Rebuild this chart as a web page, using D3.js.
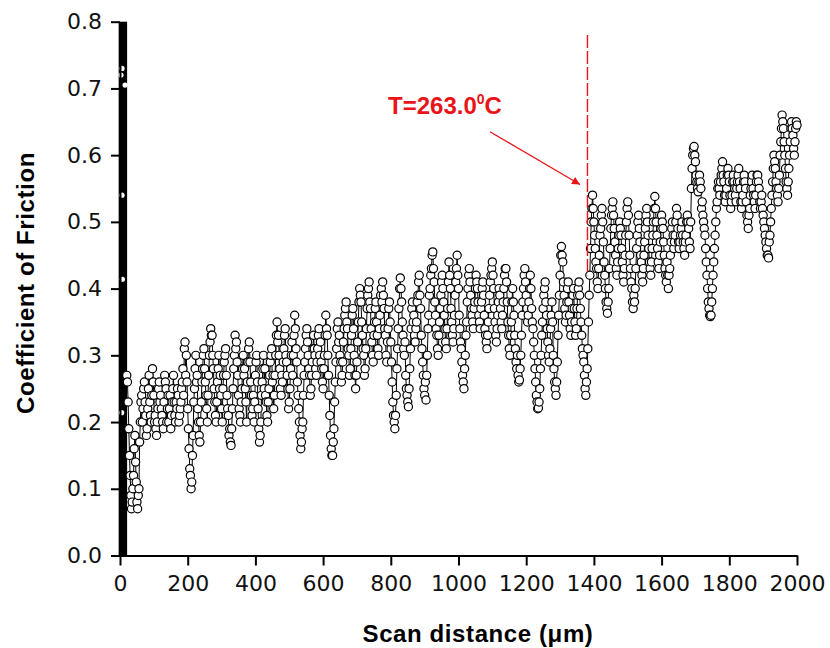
<!DOCTYPE html>
<html><head><meta charset="utf-8">
<script src="https://cdn.jsdelivr.net/npm/d3@7"></script>
<style>body{margin:0;background:#fff}svg{display:block}</style>
</head><body><svg id="c" width="830" height="648"></svg>
<script>
// ---- data ----
const xTicks = [0,200,400,600,800,1000,1200,1400,1600,1800,2000];
const yTicks = [0,0.1,0.2,0.3,0.4,0.5,0.6,0.7,0.8];
const xLabel = "Scan distance (\u03bcm)";
const yLabel = "Coefficient of Friction";
const rowStep = 4; // µm between samples in one row
const rowStarts = [20,120,220,320,420,520,620,720,820,920,1020,1120,1220,1320,1420,1520,1620,1720,1820,1920];
// samples at rowStart + 4j
const cofRowsA = [
 [.27,.23,.15,.09,.08,.12,.18,.11,.07,.1,.2,.24,.22,.26,.21,.19,.25,.23,.2,.28,.24,.21,.18,.22,.26],
 [.24,.21,.19,.27,.25,.22,.2,.24,.21,.25,.23,.2,.22,.24,.21,.23,.26,.24,.32,.3,.22,.16,.12,.11,.18],
 [.25,.3,.27,.2,.17,.23,.28,.31,.26,.22,.24,.3,.34,.33,.28,.23,.2,.26,.3,.27,.22,.25,.29,.31,.24],
 [.21,.19,.165,.22,.28,.33,.32,.27,.22,.2,.25,.3,.28,.23,.26,.31,.29,.24,.22,.2,.27,.3,.22,.17,.2],
 [.26,.3,.28,.23,.2,.25,.29,.31,.27,.24,.3,.35,.33,.28,.24,.26,.31,.34,.29,.25,.23,.28,.32,.3,.36],
 [.31,.26,.22,.18,.17,.2,.27,.31,.34,.3,.27,.25,.29,.33,.3,.27,.31,.34,.32,.28,.25,.3,.36,.33,.27],
 [.21,.16,.15,.19,.26,.31,.35,.33,.29,.27,.32,.36,.38,.34,.3,.28,.33,.37,.3,.25,.29,.35,.4,.38,.33],
 [.3,.28,.34,.39,.41,.37,.32,.29,.35,.38,.33,.3,.36,.4,.41,.37,.33,.29,.34,.38,.32,.26,.21,.19,.24],
 [.31,.37,.416,.38,.33,.3,.27,.24,.223,.28,.34,.38,.36,.32,.35,.39,.42,.37,.31,.27,.24,.233,.3,.36,.4],
 [.43,.455,.41,.36,.33,.3,.35,.39,.42,.38,.34,.31,.37,.44,.4,.35,.32,.36,.41,.45,.4,.34,.31,.27,.25],
 [.3,.35,.4,.43,.39,.36,.34,.38,.42,.4,.36,.34,.38,.41,.36,.33,.31,.35,.39,.42,.44,.4,.35,.32,.36],
 [.4,.37,.34,.38,.42,.43,.38,.33,.3,.35,.4,.36,.31,.28,.27,.263,.3,.36,.4,.43,.39,.35,.38,.42,.37],
 [.34,.3,.26,.23,.221,.25,.3,.35,.39,.41,.36,.32,.29,.34,.38,.3,.26,.24,.29,.36,.42,.463,.44,.39,.35],
 [.38,.41,.36,.33,.37,.4,.35,.34,.39,.41,.37,.33,.3,.27,.24,.28,.35,.42,.5,.54,.5,.46,.43,.4,.45],
 [.49,.52,.47,.42,.38,.363,.4,.46,.51,.53,.49,.45,.42,.46,.5,.48,.44,.41,.45,.5,.53,.48,.43,.4,.37],
 [.38,.43,.48,.51,.47,.44,.41,.45,.49,.52,.48,.44,.42,.46,.5,.538,.5,.46,.43,.47,.51,.49,.45,.42,.44],
 [.4,.43,.47,.5,.46,.48,.52,.49,.46,.48,.5,.47,.45,.48,.51,.49,.46,.55,.6,.613,.59,.56,.545,.57,.55],
 [.53,.5,.48,.44,.4,.37,.358,.38,.42,.46,.5,.53,.56,.54,.57,.59,.56,.53,.55,.58,.56,.52,.54,.57,.55],
 [.53,.56,.58,.55,.52,.54,.57,.55,.51,.49,.52,.55,.57,.54,.52,.56,.57,.55,.52,.54,.51,.49,.47,.45,.446],
 [.48,.52,.56,.6,.58,.55,.53,.57,.62,.66,.64,.6,.56,.54,.58,.62,.65,.63,.6,.64,.645]
];
// samples at rowStart + 2 + 4j
const cofRowsB = [
 [.26,.19,.12,.07,.1,.16,.14,.08,.09,.17,.23,.2,.25,.23,.18,.22,.27,.21,.24,.26,.2,.19,.2,.25,.23],
 [.22,.2,.23,.26,.2,.24,.22,.19,.23,.27,.21,.23,.25,.2,.22,.25,.28,.31,.27,.26,.19,.13,.1,.15,.23],
 [.28,.26,.22,.18,.2,.26,.3,.28,.24,.2,.27,.32,.33,.3,.25,.21,.23,.28,.25,.24,.2,.27,.3,.27,.22],
 [.18,.17,.19,.25,.3,.31,.29,.24,.21,.23,.28,.27,.25,.2,.29,.32,.26,.21,.24,.23,.29,.26,.19,.18,.24],
 [.28,.25,.24,.21,.23,.27,.3,.26,.22,.27,.33,.32,.3,.25,.27,.29,.33,.3,.27,.22,.25,.3,.27,.33,.34],
 [.29,.24,.2,.16,.19,.24,.29,.33,.32,.28,.24,.27,.31,.31,.28,.29,.33,.3,.29,.26,.28,.33,.34,.3,.24],
 [.18,.15,.17,.23,.29,.34,.32,.3,.26,.29,.34,.37,.35,.31,.27,.31,.36,.34,.27,.27,.32,.38,.39,.35,.31],
 [.27,.31,.37,.4,.38,.34,.3,.33,.37,.35,.31,.34,.39,.38,.39,.34,.3,.32,.37,.35,.29,.23,.2,.21,.28],
 [.34,.4,.4,.35,.31,.32,.25,.23,.25,.31,.37,.35,.33,.34,.38,.41,.39,.33,.29,.25,.26,.27,.34,.39,.42],
 [.45,.43,.38,.34,.31,.33,.37,.41,.4,.36,.32,.34,.41,.42,.37,.33,.34,.39,.43,.42,.36,.32,.29,.26,.28],
 [.33,.38,.42,.41,.37,.35,.37,.4,.41,.38,.35,.37,.4,.39,.34,.32,.33,.37,.41,.43,.42,.37,.33,.34,.38],
 [.39,.35,.36,.4,.43,.41,.35,.31,.33,.38,.38,.33,.29,.3,.26,.28,.33,.38,.42,.41,.37,.36,.4,.4,.35],
 [.32,.28,.24,.22,.23,.28,.33,.37,.4,.38,.34,.3,.31,.36,.35,.28,.25,.26,.33,.39,.45,.45,.41,.37,.36],
 [.4,.38,.34,.35,.39,.37,.33,.37,.4,.39,.35,.31,.29,.25,.26,.31,.39,.46,.52,.52,.48,.44,.41,.43,.48],
 [.51,.5,.44,.4,.37,.38,.43,.49,.52,.51,.47,.43,.44,.48,.49,.46,.42,.43,.48,.52,.51,.45,.41,.38,.39],
 [.4,.46,.5,.49,.45,.42,.43,.47,.51,.5,.46,.43,.44,.48,.52,.52,.48,.44,.45,.49,.5,.47,.43,.41,.42],
 [.42,.45,.49,.48,.47,.5,.51,.47,.47,.49,.48,.46,.47,.5,.5,.47,.5,.58,.61,.6,.57,.55,.56,.56,.52],
 [.51,.49,.46,.42,.38,.36,.36,.4,.44,.48,.52,.55,.55,.56,.58,.57,.54,.54,.57,.57,.54,.53,.56,.56,.54],
 [.55,.57,.56,.53,.53,.56,.56,.53,.5,.51,.54,.56,.55,.53,.54,.57,.56,.53,.53,.52,.5,.48,.46,.45,.47],
 [.5,.54,.58,.59,.56,.54,.55,.6,.64,.65,.62,.58,.55,.56,.6,.64,.64,.61,.62,.65]
];
const rowOffsetB = 2;
// run-in region (dense vertical trace at the very start)
const runInX = [-4, 21];
const runInY = [0, 0.8];
const runInDotX = [6, 3, 15, 6, 7, 5];
const runInDotY = [0.73, 0.72, 0.705, 0.54, 0.414, 0.214];
// annotation
const markerX = [1381, 1381];
const markerY = [0.78, 0.42];
const arrowX = [1093, 1359];
const arrowY = [0.635, 0.556];
const noteX = 792, noteY = 0.661;
const noteMain = "T=263.0", noteSup = "0", noteUnit = "C";

// ---- build ----
const series = [];
rowStarts.forEach((s, r) => {
  cofRowsA[r].forEach((v, j) => series.push({x: s + j*rowStep, y: v}));
  cofRowsB[r].forEach((v, j) => series.push({x: s + rowOffsetB + j*rowStep, y: v}));
});
series.sort((a, b) => a.x - b.x);

const svg = d3.select("#c");
const x = d3.scaleLinear().domain([0, 2000]).range([120, 797]);
const y = d3.scaleLinear().domain([0, 0.8]).range([555.5, 21.7]);
const red = "#e8141a";

const defs = svg.append("defs");
defs.append("marker").attr("id","ah").attr("viewBox","0 0 10 10")
  .attr("refX",10).attr("refY",5).attr("markerWidth",12).attr("markerHeight",8)
  .attr("markerUnits","userSpaceOnUse").attr("orient","auto")
  .append("path").attr("d","M0,0L10,5L0,10z").attr("fill",red);

// run-in bar
svg.append("rect")
  .attr("x", x(runInX[0])).attr("width", x(runInX[1]) - x(runInX[0]))
  .attr("y", y(runInY[1])).attr("height", y(runInY[0]) - y(runInY[1]))
  .attr("fill", "#000");

// connecting line
svg.append("path").datum(series)
  .attr("d", d3.line().x(d => x(d.x)).y(d => y(d.y)))
  .attr("fill","none").attr("stroke","#000").attr("stroke-width",1);

// markers
svg.append("g").selectAll("circle").data(series).join("circle")
  .attr("cx", d => x(d.x)).attr("cy", d => y(d.y)).attr("r", 4.1)
  .attr("fill","#fff").attr("stroke","#000").attr("stroke-width",1.2);

svg.append("g").selectAll("circle").data(runInDotX).join("circle")
  .attr("cx", (d,i) => x(d)).attr("cy", (d,i) => y(runInDotY[i])).attr("r", 2.6)
  .attr("fill","#fff");

// axes
const xAxis = svg.append("g").attr("transform", `translate(0,${y(0)})`)
  .call(d3.axisBottom(x).tickValues(xTicks).tickSize(10).tickSizeOuter(0).tickPadding(10).tickFormat(d3.format("d")));
const yAxis = svg.append("g").attr("transform", `translate(${x(0)},0)`)
  .call(d3.axisLeft(y).tickValues(yTicks).tickSize(9).tickSizeOuter(0).tickPadding(9).tickFormat(d3.format(".1f")));
[xAxis, yAxis].forEach(g => {
  g.select(".domain").attr("stroke","#000").attr("stroke-width",2);
  g.selectAll(".tick line").attr("stroke","#000").attr("stroke-width",2);
  g.selectAll(".tick text").attr("fill","#111")
    .style("font-family","'DejaVu Sans', sans-serif").style("font-size","22px");
});

// axis titles
svg.append("text").attr("x", 478).attr("y", 642).attr("text-anchor","middle")
  .style("font-family","'Liberation Sans', Arial, sans-serif").style("font-weight","bold")
  .style("font-size","24px").style("letter-spacing","0.6px").text(xLabel);
svg.append("text").attr("transform","translate(34,283) rotate(-90)").attr("text-anchor","middle")
  .style("font-family","'Liberation Sans', Arial, sans-serif").style("font-weight","bold")
  .style("font-size","24px").style("letter-spacing","0.6px").text(yLabel);

// annotation
svg.append("line")
  .attr("x1", x(markerX[0])).attr("x2", x(markerX[1]))
  .attr("y1", y(markerY[0])).attr("y2", y(markerY[1]))
  .attr("stroke", red).attr("stroke-width", 1.4).attr("stroke-dasharray","13,3");
svg.append("line")
  .attr("x1", x(arrowX[0])).attr("y1", y(arrowY[0]))
  .attr("x2", x(arrowX[1])).attr("y2", y(arrowY[1]))
  .attr("stroke", red).attr("stroke-width", 1.3).attr("marker-end","url(#ah)");
const note = svg.append("text").attr("x", x(noteX)).attr("y", y(noteY))
  .attr("fill", red).style("font-family","'Liberation Sans', Arial, sans-serif")
  .style("font-weight","bold").style("font-size","24px");
note.append("tspan").text(noteMain);
note.append("tspan").attr("dy",-10).style("font-size","14px").text(noteSup);
note.append("tspan").attr("dy",10).text(noteUnit);
</script></body></html>
